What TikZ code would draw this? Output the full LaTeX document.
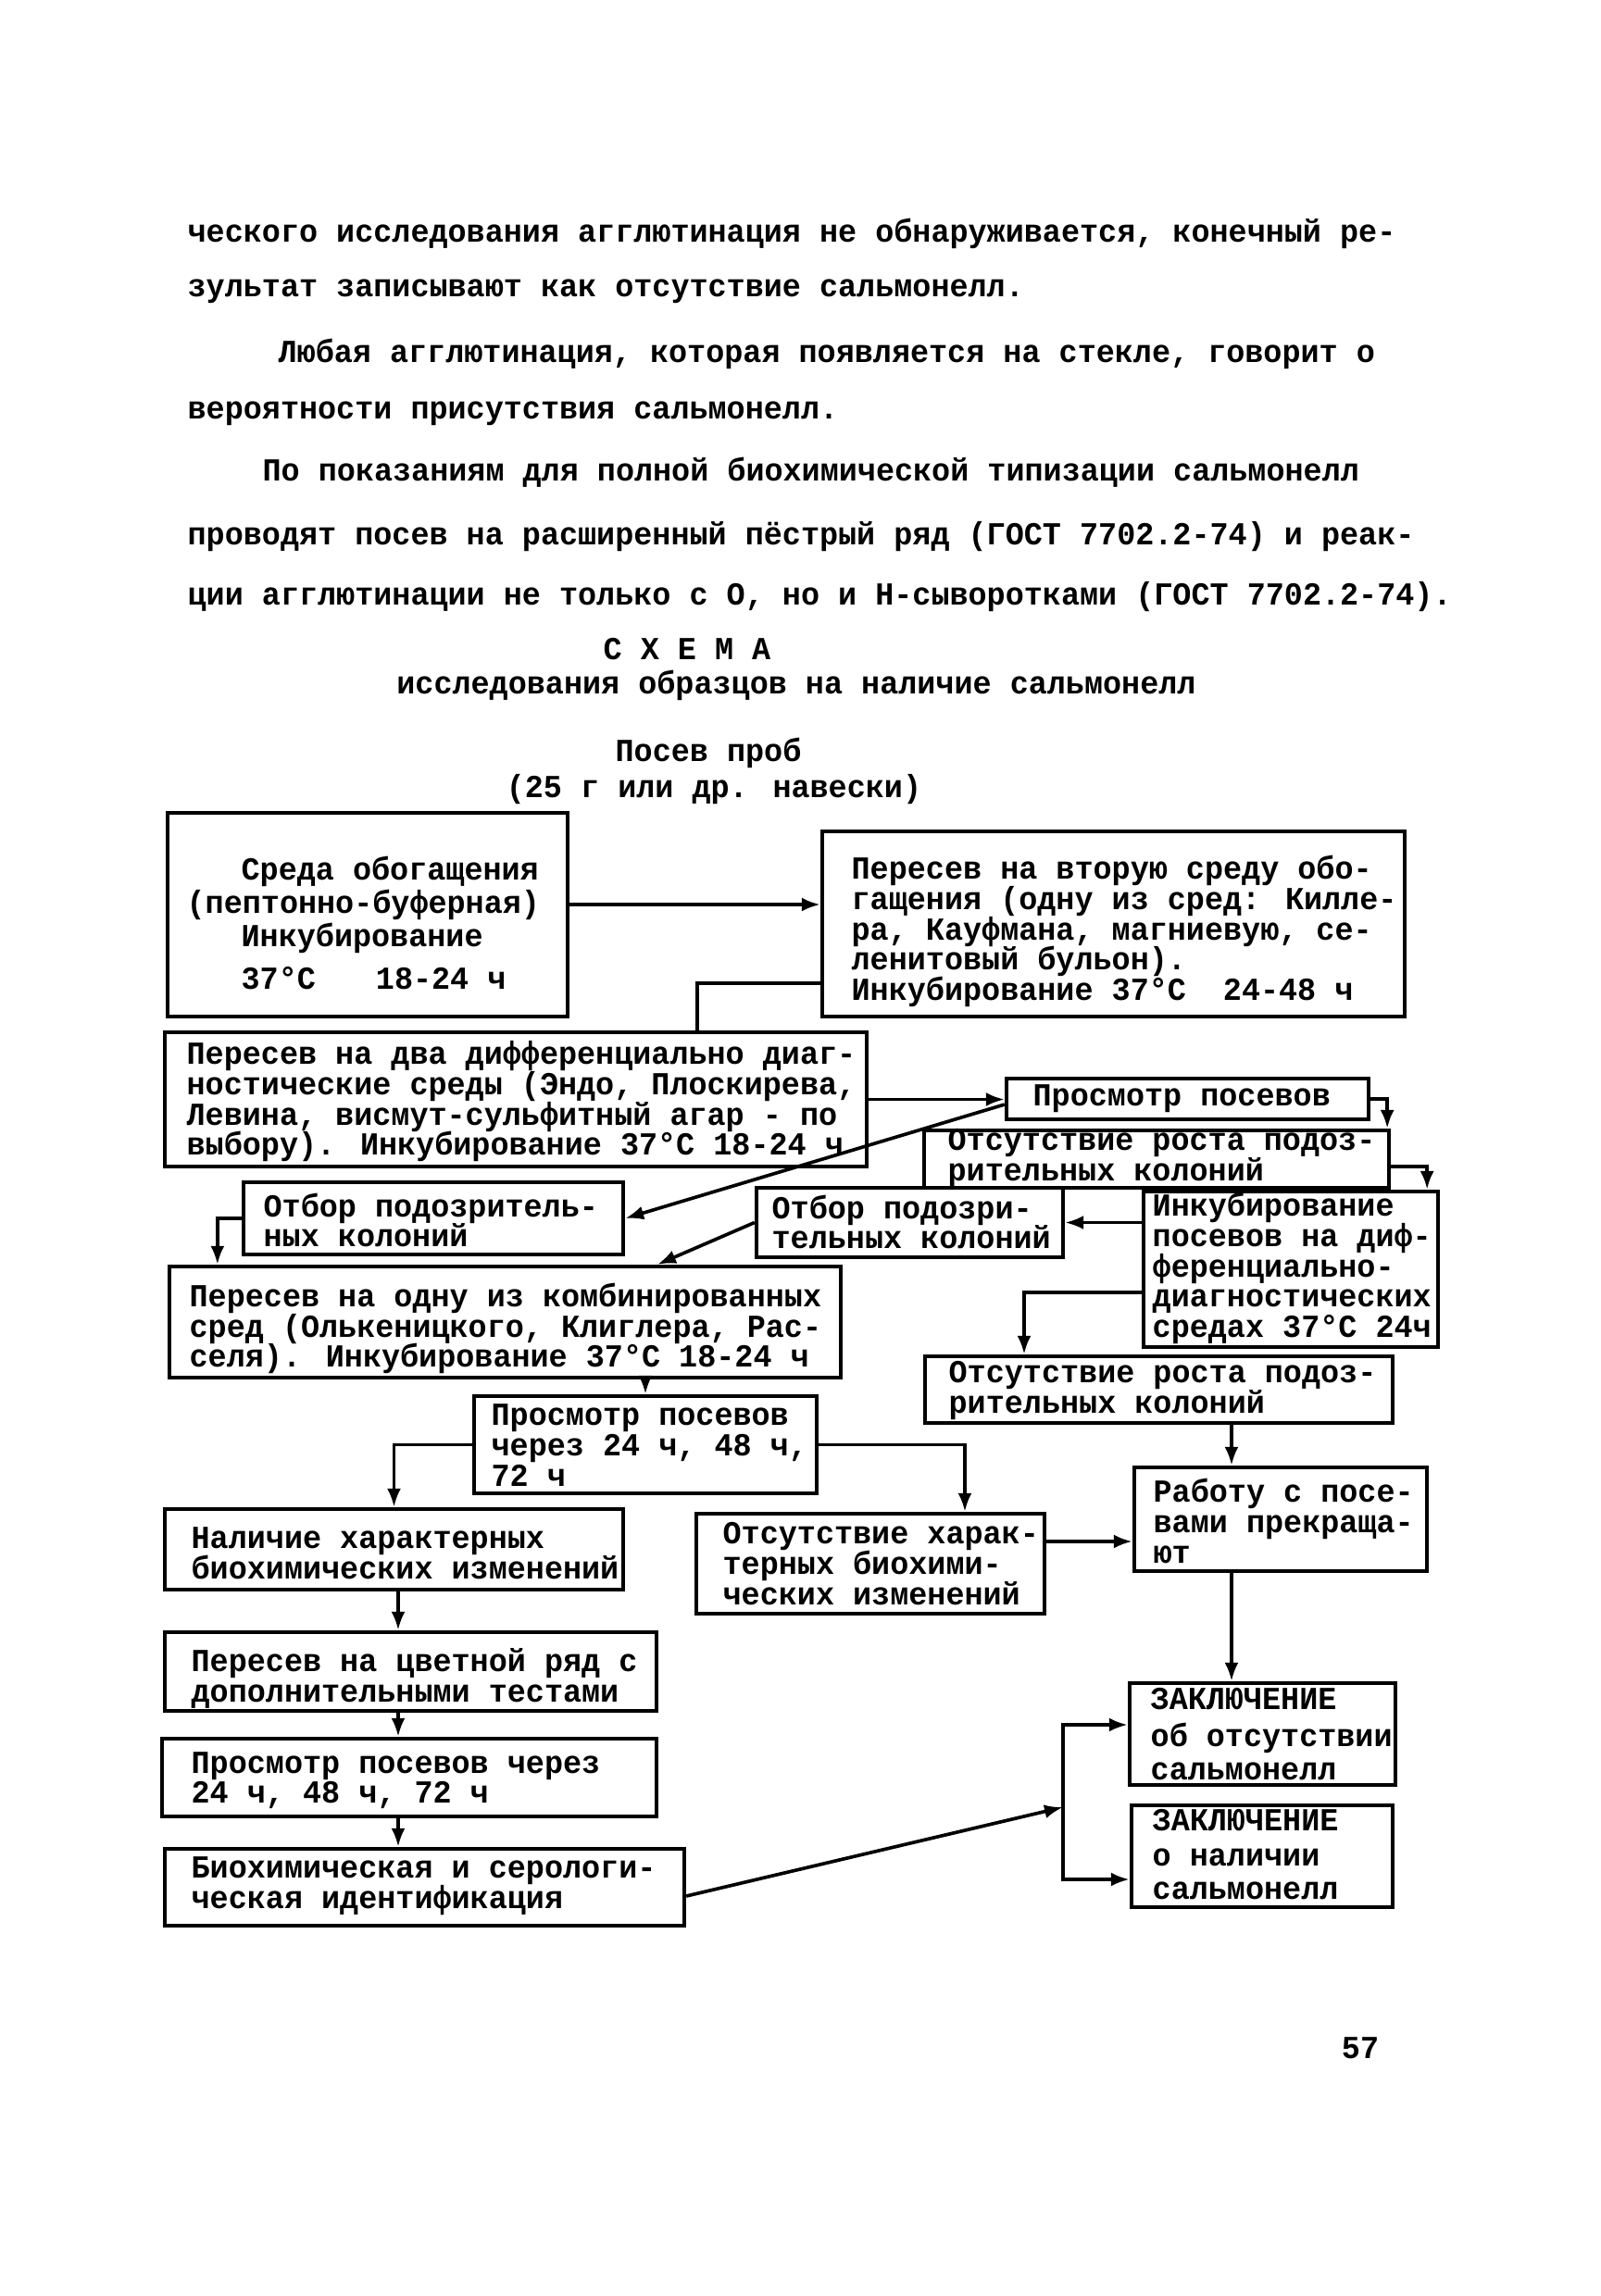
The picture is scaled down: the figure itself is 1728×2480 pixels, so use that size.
\documentclass[tikz,border=0pt]{standalone}
\usepackage{fontspec}
\newfontfamily\tw[FakeStretch=0.965]{Liberation Mono}
\newcommand{\twfont}{\tw\bfseries\fontsize{10.4}{9.8}\selectfont}
\usetikzlibrary{arrows.meta,fit}
\begin{document}
\lineskiplimit=-30pt
\begin{tikzpicture}[x=0.3pt,y=-0.3pt,
  box/.style={draw, line width=1.3pt, inner sep=0pt},
  txt/.style={inner sep=0pt, align=left, anchor=west, font=\twfont},
  ctxt/.style={txt, anchor=center, align=center},
  conn/.style={line width=1.1pt},
  arr/.style={conn, -{Latex[length=6pt,width=4.5pt]}}]
\path[use as bounding box, fill=white] (0,0) rectangle (1728,2480);

% body text
\node[txt] (l1) at (202,252) {ческого исследования агглютинация не обнаруживается, конечный ре-};
\node[txt] (l2) at (202,315) {зультат записывают как отсутствие сальмонелл.};
\node[txt] (l3) at (300,382) {Любая агглютинация, которая появляется на стекле, говорит о};
\node[txt] (l4) at (202,447) {вероятности присутствия сальмонелл.};
\node[txt] (l5) at (283,510) {По показаниям для полной биохимической типизации сальмонелл};
\node[txt] (l6) at (202,580) {проводят посев на расширенный пёстрый ряд (ГОСТ 7702.2-74) и реак-};
\node[txt] (l7) at (202,645) {ции агглютинации не только с О, но и Н-сыворотками (ГОСТ 7702.2-74).};
\node[ctxt] (t1) at (742,701) {С Х Е М А};
\node[ctxt] (t2) at (860,740) {исследования образцов на наличие сальмонелл};
\node[ctxt] (t3) at (765,813) {Посев проб};
\node[ctxt] (t4) at (771,853) {(25 г или др. навески)};

% boxes
\node[box, fit={(181,878)(613,1098)}] (A) {};
\node[box, fit={(888,898)(1517,1098)}] (B) {};
\node[box, fit={(178,1115)(936,1260)}] (C) {};
\node[box, fit={(1087,1165)(1478,1209)}] (D) {};
\node[box, fit={(998,1221)(1500,1283)}] (E) {};
\node[box, fit={(1235,1287)(1553,1455)}] (F) {};
\node[box, fit={(263,1277)(673,1355)}] (G1) {};
\node[box, fit={(817,1283)(1148,1358)}] (G2) {};
\node[box, fit={(183,1368)(908,1488)}] (H) {};
\node[box, fit={(512,1508)(882,1613)}] (K) {};
\node[box, fit={(999,1465)(1504,1537)}] (I) {};
\node[box, fit={(1225,1585)(1541,1697)}] (J) {};
\node[box, fit={(178,1630)(673,1717)}] (L) {};
\node[box, fit={(752,1635)(1128,1743)}] (M) {};
\node[box, fit={(178,1763)(709,1848)}] (P) {};
\node[box, fit={(175,1878)(709,1962)}] (R) {};
\node[box, fit={(178,1997)(739,2080)}] (Q) {};
\node[box, fit={(1220,1818)(1507,1928)}] (N1) {};
\node[box, fit={(1222,1950)(1504,2060)}] (N2) {};

% box texts
\node[txt] (At) at (201,997) {\hspace*{17.7pt}Среда обогащения\\[1pt](пептонно-буферная)\\[1pt]\hspace*{17.7pt}Инкубирование\\[4pt]\hspace*{17.7pt}37°C\hspace*{19.5pt}18-24 ч};
\node[txt] (Bt) at (919,1006) {Пересев на вторую среду обо-\\гащения (одну из сред: Килле-\\ра, Кауфмана, магниевую, се-\\ленитовый бульон).\\Инкубирование 37°C\hspace*{12pt}24-48 ч};
\node[txt] (Ct) at (201,1190) {Пересев на два дифференциально диаг-\\ностические среды (Эндо, Плоскирева,\\Левина, висмут-сульфитный агар - по\\выбору). Инкубирование 37°C 18-24 ч};
\node[txt] (Dt) at (1115,1187) {Просмотр посевов};
\node[txt] (Et) at (1023,1251) {Отсутствие роста подоз-\\рительных колоний};
\node[txt] (Ft) at (1244,1370) {Инкубирование\\посевов на диф-\\ференциально-\\диагностических\\средах 37°C 24ч};
\node[txt] (G1t) at (284,1318) {Отбор подозритель-\\ных колоний};
\node[txt] (G2t) at (833,1320) {Отбор подозри-\\тельных колоний};
\node[txt] (Ht) at (204,1435) {Пересев на одну из комбинированных\\сред (Олькеницкого, Клиглера, Рас-\\селя). Инкубирование 37°C 18-24 ч};
\node[txt] (Kt) at (530,1561) {Просмотр посевов\\через 24 ч, 48 ч,\\72 ч};
\node[txt] (It) at (1024,1502) {Отсутствие роста подоз-\\рительных колоний};
\node[txt] (Jt) at (1245,1643) {Работу с посе-\\вами прекраща-\\ют};
\node[txt] (Lt) at (206,1678) {Наличие характерных\\биохимических изменений};
\node[txt] (Mt) at (780,1689) {Отсутствие харак-\\терных биохими-\\ческих изменений};
\node[txt] (Pt) at (206,1813) {Пересев на цветной ряд с\\дополнительными тестами};
\node[txt] (Rt) at (206,1923) {Просмотр посевов через\\24 ч, 48 ч, 72 ч};
\node[txt] (Qt) at (206,2037) {Биохимическая и серологи-\\ческая идентификация};
\node[txt] (N1t) at (1242,1873) {ЗАКЛЮЧЕНИЕ\\[2pt]об отсутствии\\[1pt]сальмонелл};
\node[txt] (N2t) at (1244,2003) {ЗАКЛЮЧЕНИЕ\\[1.5pt]о наличии\\[1pt]сальмонелл};

\node[ctxt] (pg) at (1469,2212) {57};

% connectors
\coordinate (ab) at ([yshift=3.3pt]A.east);
\draw[arr] (ab) -- (ab -| B.west);
\coordinate (bc) at ([yshift=-19.2pt]B.west);
\coordinate (ct) at ([xshift=58.8pt]C.north);
\draw[conn] (bc) -| (ct);
\draw[arr] (C.east) -- (C.east -| D.west);
\draw[arr] (D.east) -| ([xshift=-1.2pt]E.north east);
\draw[arr] ([yshift=-2.4pt]E.east) -| ([xshift=-4.2pt]F.north east);
\draw[arr] ([yshift=-1.8pt]D.west) -- (G1.east);
\draw[arr] (G2.west) -- ([xshift=49.35pt]H.north);
\draw[arr] (G1.west) -| ([xshift=16.2pt]H.north west);
\draw[arr] (G2.east -| F.west) -- (G2.east);
\draw[arr] ([yshift=-7.5pt]F.west) -| ([xshift=-43.65pt]I.north);
\coordinate (ij) at ([xshift=23.55pt]I.south);
\draw[arr] (ij) -- (ij |- J.north);
\draw[arr] (K.north |- H.south) -- (K.north);
\draw[arr] (K.west) -| (L.north);
\draw[arr] (K.east) -| ([xshift=30.6pt]M.north);
\coordinate (mj) at ([yshift=7.2pt]M.east);
\draw[arr] (mj) -- (mj -| J.west);
\coordinate (lx) at ([xshift=1.35pt]L.south);
\draw[arr] (lx) -- (lx |- P.north);
\draw[arr] (lx |- P.south) -- (lx |- R.north);
\draw[arr] (lx |- R.south) -- (lx |- Q.north);
\coordinate (jx) at (ij |- J.south);
\draw[arr] (jx) -- (jx |- N1.north);
\coordinate (jn) at (1148,1952);
\draw[arr] ([yshift=-2.85pt]Q.east) -- (jn);
\draw[arr] (jn) |- ([yshift=3pt]N1.west);
\draw[arr] (jn) |- ([yshift=-7.5pt]N2.west);
\end{tikzpicture}
\end{document}
